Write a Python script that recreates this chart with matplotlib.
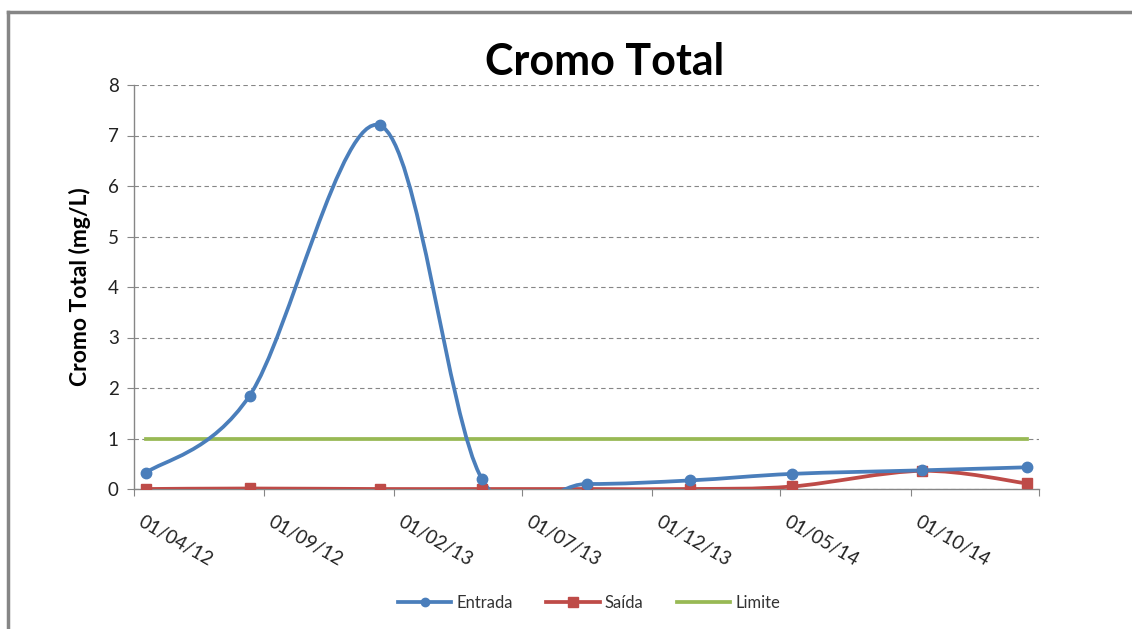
import numpy as np
import matplotlib
matplotlib.use('Agg')
import matplotlib.pyplot as plt
import matplotlib.dates as mdates
import matplotlib.transforms as mtransforms
from matplotlib.path import Path
from matplotlib.patches import PathPatch
from matplotlib.lines import Line2D
import datetime as dt

plt.rcParams['font.family'] = ['Lato', 'DejaVu Sans']

# data
datas = ['2012-04-15', '2012-08-15', '2013-01-15', '2013-05-15', '2013-09-15',
         '2014-01-15', '2014-05-15', '2014-10-15', '2015-02-15']
entrada = [0.32, 1.85, 7.2, 0.2, 0.1, 0.17, 0.3, 0.37, 0.43]
saida = [0.0, 0.01, 0.0, 0.0, 0.0, 0.0, 0.05, 0.36, 0.11]
limite = [1, 1, 1, 1, 1, 1, 1, 1, 1]

tick_datas = ['2012-04-01', '2012-09-01', '2013-02-01', '2013-07-01', '2013-12-01',
              '2014-05-01', '2014-10-01', '2015-03-01']
tick_labels = ['01/04/12', '01/09/12', '01/02/13', '01/07/13', '01/12/13',
               '01/05/14', '01/10/14', '']

azul = '#4A7EBB'
vermelho = '#BE4B48'
verde = '#98B954'
LW = 2.7

x = mdates.date2num([dt.datetime.fromisoformat(d) for d in datas])
xt = mdates.date2num([dt.datetime.fromisoformat(d) for d in tick_datas])


def suave(ax, xs, ys, cor):
    # Excel-like smoothed line: Catmull-Rom as cubic Bezier segments
    pts = np.column_stack([xs, ys])
    verts = [pts[0]]
    codes = [Path.MOVETO]
    n = len(pts)
    for i in range(n - 1):
        p0 = pts[max(i - 1, 0)]
        p1 = pts[i]
        p2 = pts[i + 1]
        p3 = pts[min(i + 2, n - 1)]
        c1 = p1 + (p2 - p0) / 6.0
        c2 = p2 - (p3 - p1) / 6.0
        verts += [c1, c2, p2]
        codes += [Path.CURVE4] * 3
    ax.add_patch(PathPatch(Path(verts, codes), facecolor='none', edgecolor=cor,
                           lw=LW, capstyle='round', joinstyle='round', zorder=3))


fig = plt.figure(figsize=(11.32, 6.29), dpi=100)
ax = fig.add_axes([134 / 1132, 1 - 489 / 629, 905 / 1132, 404 / 629])

ax.plot(x, limite, color=verde, lw=LW, zorder=2)
suave(ax, x, saida, vermelho)
ax.plot(x, saida, 's', color=vermelho, ms=7.5, zorder=4)
suave(ax, x, entrada, azul)
ax.plot(x, entrada, 'o', color=azul, ms=7.5, zorder=5)

ax.set_xlim(xt[0], xt[-1])
ax.set_ylim(0, 8)
ax.set_yticks(range(0, 9))
ax.set_xticks(xt)
ax.set_xticklabels(tick_labels, rotation=-30, ha='left', va='top',
                   rotation_mode='anchor', fontsize=13.5, color='#222222')
ax.tick_params(axis='y', labelsize=13.5, labelcolor='#222222', length=5,
               color='#868686', direction='out', pad=6)
ax.tick_params(axis='x', length=5, color='#868686', direction='out', pad=12)
desloc = mtransforms.ScaledTranslation(10 / 100, 0, fig.dpi_scale_trans)
for lbl in ax.get_xticklabels():
    lbl.set_transform(lbl.get_transform() + desloc)

ax.yaxis.grid(True, color='#868686', ls=(0, (4, 3)), lw=0.8)
ax.set_axisbelow(True)
for s in ['top', 'right']:
    ax.spines[s].set_visible(False)
for s in ['left', 'bottom']:
    ax.spines[s].set_color('#868686')
    ax.spines[s].set_linewidth(1)

ax.set_ylabel('Cromo Total (mg/L)', fontsize=16.5, fontweight='bold', labelpad=12)
fig.text(605 / 1132, 1 - 62 / 629, 'Cromo Total', fontsize=31, fontweight='bold',
         ha='center', va='center')

handles = [
    Line2D([], [], color=azul, lw=LW, marker='o', ms=6),
    Line2D([], [], color=vermelho, lw=LW, marker='s', ms=7),
    Line2D([], [], color=verde, lw=LW),
]
fig.legend(handles, ['Entrada', 'Saída', 'Limite'], loc='center',
           bbox_to_anchor=(589 / 1132, 1 - 603 / 629), ncol=3, frameon=False,
           fontsize=12, handlelength=3.2, columnspacing=2.0, handletextpad=0.3,
           labelcolor='#333333')

# moldura cinza (topo e esquerda)
fig.add_artist(Line2D([8 / 1132, 8 / 1132], [0, 1 - 12 / 629], color='#868686', lw=2.5,
                      transform=fig.transFigure))
fig.add_artist(Line2D([8 / 1132, 1], [1 - 12 / 629, 1 - 12 / 629], color='#868686', lw=2.5,
                      transform=fig.transFigure))

fig.savefig('out.png', dpi=100)
